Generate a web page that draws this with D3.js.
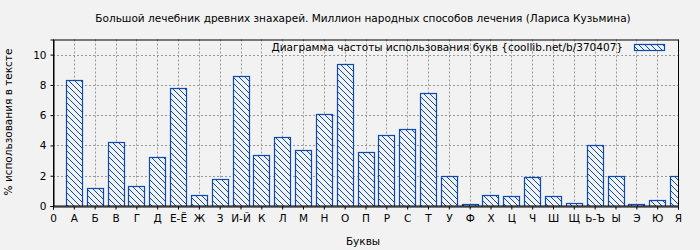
<!DOCTYPE html>
<html><head><meta charset="utf-8">
<script src="https://cdn.jsdelivr.net/npm/d3@7"></script>
<style>
body{margin:0;background:#f2f2f2;}
text{font-family:"DejaVu Sans",sans-serif;fill:#000;}
</style></head>
<body><svg id="c" width="700" height="250"></svg>
<script>
const title = "Большой лечебник древних знахарей. Миллион народных способов лечения (Лариса Кузьмина)";
const legendLabel = "Диаграмма частоты использования букв {coollib.net/b/370407}";
const xTitle = "Буквы";
const yTitle = "% использования в тексте";
const letters = ["А","Б","В","Г","Д","Е-Ё","Ж","З","И-Й","К","Л","М","Н","О","П","Р","С","Т","У","Ф","Х","Ц","Ч","Ш","Щ","Ь-Ъ","Ы","Э","Ю","Я"];
const values = [8.35,1.17,4.26,1.30,3.21,7.82,0.70,1.76,8.61,3.34,4.59,3.67,6.11,9.41,3.54,4.66,5.12,7.45,1.96,0.13,0.73,0.66,1.91,0.66,0.18,4.00,1.98,0.13,0.40,1.98];
const yTicks = [0,2,4,6,8,10];

const FS = 10.5;
const svg = d3.select("#c");
const m = {l:53, r:678, t:39.5, b:206};
const x = d3.scaleLinear().domain([0, letters.length]).range([m.l, m.r]);
const y = d3.scaleLinear().domain([0, 11]).range([m.b, m.t]);
const blue = "#0b4ab3";

const defs = svg.append("defs");
const pat = defs.append("pattern").attr("id","hatch").attr("patternUnits","userSpaceOnUse")
  .attr("width",6).attr("height",6);
pat.append("rect").attr("width",6).attr("height",6).attr("fill","#f2f2f2");
pat.append("path").attr("d","M0,0 L6,6 M-3,3 L3,9 M3,-3 L9,3").attr("stroke",blue).attr("stroke-width",1);
defs.append("clipPath").attr("id","clip").append("rect")
  .attr("x",m.l).attr("y",m.t).attr("width",m.r-m.l).attr("height",m.b-m.t);

// grid
const g = svg.append("g");
g.selectAll(".hg").data(yTicks.filter(d=>d>0)).enter().append("line")
  .attr("x1",m.l).attr("x2",m.r).attr("y1",d=>Math.round(y(d))+0.5).attr("y2",d=>Math.round(y(d))+0.5)
  .attr("stroke","#999").attr("stroke-dasharray","2,2");
g.selectAll(".vg").data(d3.range(1, letters.length+1)).enter().append("line")
  .attr("x1",d=>Math.round(x(d))+0.5).attr("x2",d=>Math.round(x(d))+0.5).attr("y1",m.t).attr("y2",m.b)
  .attr("stroke","#999").attr("stroke-dasharray","2,2");

// bars
const bw = 16;
svg.append("g").attr("clip-path","url(#clip)").selectAll("rect").data(values).enter().append("rect")
  .attr("x",(d,i)=>Math.round(x(i+1)-bw/2)+0.5)
  .attr("y",d=>Math.round(y(d))+0.5)
  .attr("width",bw)
  .attr("height",d=>Math.round(y(0))-Math.round(y(d)))
  .attr("fill","url(#hatch)").attr("stroke",blue).attr("stroke-width",1.2);

// frame
svg.append("rect").attr("x",m.l+0.5).attr("y",m.t+0.5).attr("width",m.r-m.l).attr("height",m.b-m.t-0.5)
  .attr("fill","none").attr("stroke","#000").attr("stroke-width",1);

// axes
const xAxis = d3.axisBottom(x).tickValues(d3.range(0, letters.length+1))
  .tickFormat(d=> d===0 ? "0" : letters[d-1]).tickSize(3).tickPadding(5);
const xa = svg.append("g").attr("transform",`translate(0,${m.b+0.5})`).call(xAxis);
const yAxis = d3.axisLeft(y).tickValues(yTicks).tickSize(3).tickPadding(4);
const ya = svg.append("g").attr("transform",`translate(${m.l+0.5},0)`).call(yAxis);
[xa,ya].forEach(a=>{
  a.select(".domain").attr("stroke","#000");
  a.selectAll(".tick line").attr("stroke","#000");
  a.selectAll("text").attr("font-size",FS).attr("font-family","DejaVu Sans").attr("fill","#000");
});

// titles
svg.append("text").attr("x",363).attr("y",22).attr("text-anchor","middle").attr("font-size",FS).text(title);
svg.append("text").attr("x",363).attr("y",245).attr("text-anchor","middle").attr("font-size",FS).text(xTitle);
svg.append("text").attr("transform","translate(12,122) rotate(-90)").attr("text-anchor","middle").attr("font-size",FS).text(yTitle);

// legend
svg.append("text").attr("x",623).attr("y",51).attr("text-anchor","end").attr("font-size",FS).text(legendLabel);
svg.append("rect").attr("x",634.5).attr("y",44.5).attr("width",30).attr("height",6)
  .attr("fill","url(#hatch)").attr("stroke",blue).attr("stroke-width",1.2);
</script></body></html>
